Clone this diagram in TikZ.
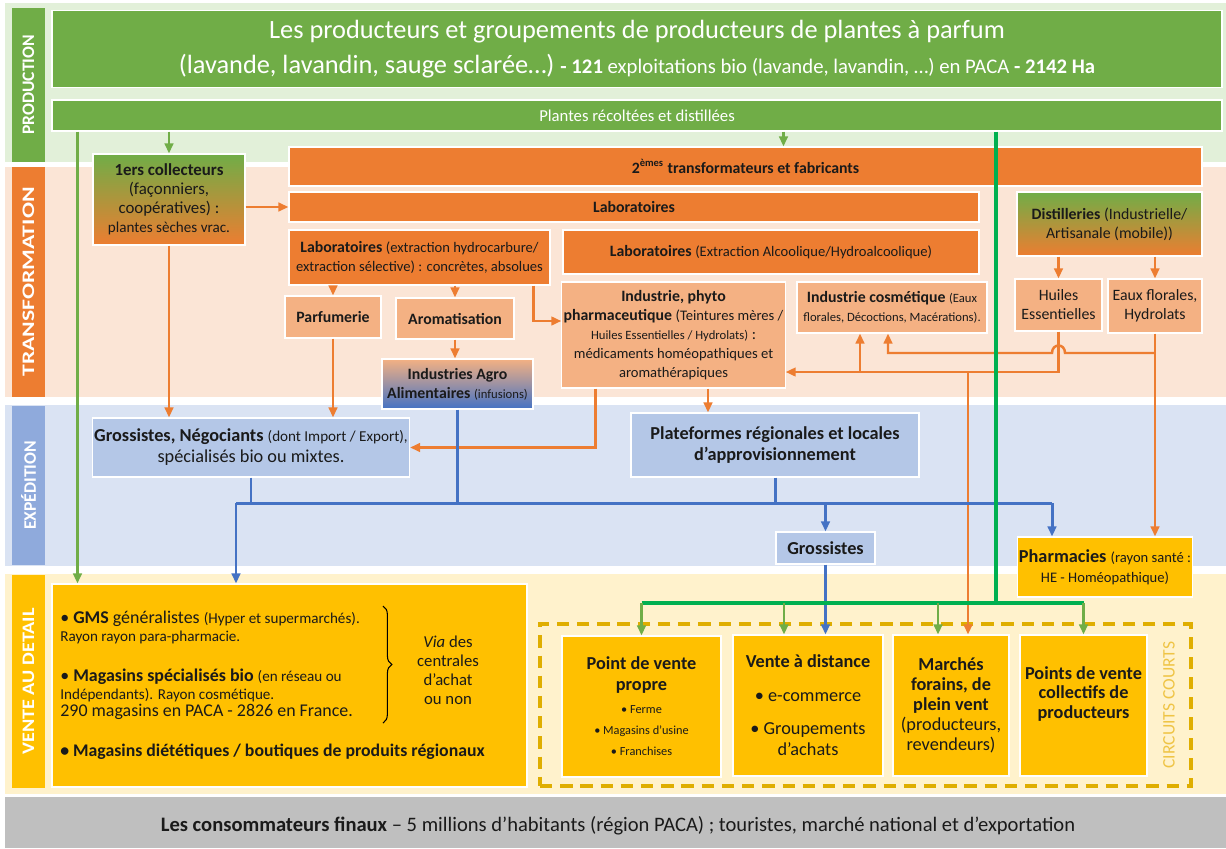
\documentclass[tikz,border=0pt]{standalone}
\usepackage{fontspec}
\setmainfont{Carlito}
\usetikzlibrary{positioning}
\usetikzlibrary{calc}
\usetikzlibrary{arrows.meta}
\usetikzlibrary{decorations.pathreplacing}

\definecolor{cvert}{HTML}{70AD47}
\definecolor{cvertfonce}{HTML}{00B050}
\definecolor{cvertpale}{HTML}{E2F0D9}
\definecolor{corange}{HTML}{ED7D31}
\definecolor{corangeclair}{HTML}{F4B183}
\definecolor{cpeche}{HTML}{FBE5D6}
\definecolor{cbleu}{HTML}{4472C4}
\definecolor{cbleuclair}{HTML}{B4C7E7}
\definecolor{cbleupale}{HTML}{DAE3F3}
\definecolor{cbleubande}{HTML}{8FAADC}
\definecolor{cjaune}{HTML}{FFC000}
\definecolor{cjaunepale}{HTML}{FFF2CC}
\definecolor{cor}{HTML}{DFAE00}
\definecolor{corclair}{HTML}{EFC445}
\definecolor{cgris}{HTML}{BFBFBF}
\definecolor{ctexte}{HTML}{1A1A1A}

\newcommand{\petit}[1]{{\fontsize{8.3}{9}\selectfont #1}}
\newcommand{\mini}[1]{{\fontsize{7.2}{8}\selectfont #1}}

\begin{document}
\begin{tikzpicture}[x=0.2mm, y=-0.2mm,
    sz/.style 2 args={minimum width=#1*0.2mm, minimum height=#2*0.2mm},
    boite/.style={draw=white, line width=0.6pt, inner sep=1pt, align=center,
        text=ctexte, font=\fontsize{9}{10.8}\selectfont},
    vbox/.style={boite, fill=cvert, text=white},
    obox/.style={boite, fill=corange},
    lobox/.style={boite, fill=corangeclair},
    bbox/.style={boite, fill=cbleuclair, font=\fontsize{10.4}{12}\selectfont},
    jbox/.style={boite, fill=cjaune, font=\fontsize{10.4}{12}\selectfont},
    vobox/.style={boite, top color=cvert, bottom color=corange},
    cadre/.style={draw=cor, line width=2.2pt, dash pattern=on 7pt off 4.5pt},
    bande/.style={rotate=90, inner sep=0pt, text=white,
        font=\bfseries\fontsize{10}{12}\selectfont},
    texte/.style={inner sep=0pt, text=ctexte, font=\fontsize{10.2}{10}\selectfont},
    pointe/.style={-{Triangle[length=2mm, width=1.7mm]}},
    vfl/.style={draw=cvert, line width=1.4pt, pointe},
    vfort/.style={draw=cvertfonce, line width=1.8pt},
    ofl/.style={draw=corange, line width=1.4pt, pointe},
    bligne/.style={draw=cbleu, line width=1.7pt},
    bfl/.style={bligne, pointe},
]
\useasboundingbox (0,0) rectangle (1226,848);

% bandes de fond
\fill[cvertpale] (5,3) rectangle (1226,162);
\fill[cpeche] (5,167) rectangle (1226,397);
\fill[cbleupale] (5,405) rectangle (1226,566);
\fill[cjaunepale] (5,574) rectangle (1226,794);
\fill[cgris] (5,797) rectangle (1226,848);

\node[bande, fill=cvert, sz={154}{33}] (prod) at (28.5,85) {PRODUCTION};
\node[bande, fill=corange, sz={230}{33}] (transf) at (28.5,282) {\scalebox{1.35}[1]{TRANSFORMATION}};
\node[bande, fill=cbleubande, sz={159}{33}] (exped) at (28.5,485.5) {EXPÉDITION};
\node[bande, fill=cjaune, sz={213}{33}] (vente) at (28.5,681.5) {\scalebox{1.15}[1]{VENTE AU DETAIL}};

% production
\node[vbox, sz={1170}{77}, font=\fontsize{15}{19.5}\selectfont] (titre) at (637,49)
    {Les producteurs et groupements de producteurs de plantes à parfum\\
     (lavande, lavandin, sauge sclarée…)
     {\fontsize{11.8}{14}\selectfont \textbf{- 121} exploitations bio (lavande, lavandin, …) en PACA \textbf{- 2142 Ha}}};
\node[vbox, sz={1170}{31}, font=\fontsize{9.5}{11}\selectfont] (plantes) at (637,115.5)
    {Plantes récoltées et distillées};

% transformation
\node[vobox, sz={152}{91}, font=\fontsize{9.6}{10.8}\selectfont] (coll) at (169,199.5)
    {\textbf{1ers collecteurs}\\(façonniers,\\coopératives) :\\{\fontsize{8.6}{9}\selectfont plantes sèches vrac.}};
\node[obox, sz={913}{39}] (trans) at (745.5,166.5)
    {\textbf{2\textsuperscript{èmes} transformateurs et fabricants}};
\node[obox, sz={690}{30}] (labo) at (634,207) {\textbf{Laboratoires}};
\node[obox, sz={261}{55}] (labohc) at (419.5,257.5)
    {\textbf{Laboratoires} \petit{(extraction hydrocarbure/}\\\petit{extraction sélective) : concrètes, absolues}};
\node[obox, sz={416}{44}] (laboalc) at (771,252)
    {\textbf{Laboratoires} \petit{(Extraction Alcoolique/Hydroalcoolique)}};
\node[lobox, sz={96}{42}] (parf) at (333,317) {\textbf{Parfumerie}};
\node[lobox, sz={118}{41}] (arom) at (455,318.5) {\textbf{Aromatisation}};
\node[boite, top color=corangeclair, bottom color=cbleu, sz={151}{50}] (agro) at (457.5,384)
    {\textbf{Industries Agro}\\\textbf{Alimentaires} \mini{(infusions)}};
\node[lobox, sz={221}{106}] (phyto) at (673.5,335)
    {\textbf{Industrie, phyto}\\\textbf{pharmaceutique} \petit{(Teintures mères /}\\
     \mini{Huiles Essentielles / Hydrolats)} :\\\petit{médicaments homéopathiques et}\\\petit{aromathérapiques}};
\node[lobox, sz={190}{51}] (cosm) at (892,307.5)
    {\textbf{Industrie cosmétique} \mini{(Eaux}\\\mini{florales, Décoctions, Macérations).}};
\node[vobox, sz={185}{64}] (distil) at (1109.5,224)
    {\textbf{Distilleries} (Industrielle/\\Artisanale (mobile))};
\node[lobox, sz={87}{52}] (huiles) at (1058.5,305) {Huiles\\Essentielles};
\node[lobox, sz={94}{54}] (eaux) at (1155,306) {Eaux florales,\\Hydrolats};

% expedition
\node[bbox, sz={316}{59}] (negoc) at (251,447.5)
    {\textbf{Grossistes, Négociants} {\fontsize{8.6}{9}\selectfont (dont Import / Export),}\\spécialisés bio ou mixtes.};
\node[bbox, sz={288}{64}] (platef) at (775,445)
    {\textbf{Plateformes régionales et locales}\\\textbf{d'approvisionnement}};
\node[bbox, sz={99}{32}] (gross) at (825.5,548) {\textbf{Grossistes}};
\node[jbox, sz={172}{60}, font=\fontsize{10.4}{11.3}\selectfont] (pharma) at (1105,567)
    {\textbf{Pharmacies} \petit{(rayon santé :}\\\petit{HE - Homéopathique)}};

% vente au detail
\node[jbox, sz={475}{203}] (gms) at (289.5,685.5) {};
\node[texte, anchor=west, align=left] (gms1) at (60,627.5)
    {• \textbf{GMS} généralistes {\fontsize{8.6}{9}\selectfont (Hyper et supermarchés).}\\{\fontsize{8.6}{9}\selectfont Rayon rayon para-pharmacie.}};
\node[texte, anchor=west, align=left] (gms2) at (60,694.5)
    {• \textbf{Magasins spécialisés bio} {\fontsize{8.6}{9}\selectfont (en réseau ou}\\{\fontsize{8.6}{9}\selectfont Indépendants). Rayon cosmétique.}\\290 magasins en PACA - 2826 en France.};
\node[texte, anchor=west, font=\bfseries\fontsize{10.1}{11}\selectfont] (gms3) at (60,752)
    {• Magasins diététiques / boutiques de produits régionaux};
\node[texte, align=center, font=\fontsize{9.5}{10.8}\selectfont] (via) at (448,670) {\textit{Via} des\\centrales\\d’achat\\ou non};
\draw[decorate, decoration={brace, amplitude=5pt}, line width=0.6pt] (383,606) -- (383,723);

\node[cadre, sz={651}{162}] (circuits) at (865.5,705) {};
\node[bande, text=corclair, font=\fontsize{10}{11}\selectfont] (cc) at (1169,705) {CIRCUITS COURTS};
\node[jbox, sz={159}{141}] (pvp) at (641.5,706.5)
    {\textbf{Point de vente}\\\textbf{propre}\\[1pt]{\fontsize{7}{8}\selectfont • Ferme}\\{\fontsize{7}{8}\selectfont • Magasins d’usine}\\{\fontsize{7}{8}\selectfont • Franchises}};
\node[jbox, sz={150}{141}] (vad) at (808,705.5)
    {\textbf{Vente à distance}\\[7pt]• e-commerce\\[7pt]• Groupements\\d’achats};
\node[jbox, sz={116}{141}, font=\fontsize{10.4}{11.3}\selectfont] (marches) at (951,705.5)
    {\textbf{Marchés}\\\textbf{forains, de}\\\textbf{plein vent}\\(producteurs,\\revendeurs)};
\node[jbox, sz={127}{141}] (pvc) at (1083.5,705.5) {};
\node[texte, align=center, font=\bfseries\fontsize{10.4}{11.3}\selectfont] (pvct) at (1083.5,694)
    {Points de vente\\collectifs de\\producteurs};

% consommateurs
\node[texte, font=\fontsize{11.7}{13}\selectfont] (conso) at (618,826)
    {\textbf{Les consommateurs finaux} – 5 millions d’habitants (région PACA) ; touristes, marché national et d’exportation};

% fleches orange
\draw[ofl] (coll.east |- labo.west) -- (labo.west);
\draw[ofl] (coll.south) -- (coll.south |- negoc.north);
\draw[ofl] (labohc.south -| parf) -- (parf.north);
\draw[ofl] (labohc.south -| arom) -- (arom.north);
\draw[ofl] ($(labohc.south east)+(-17,0)$) |- ($(phyto.west)+(0,-14)$);
\draw[ofl] (arom.south) -- (arom.south |- agro.north);
\draw[ofl] (parf.south) -- (parf.south |- negoc.north);
\draw[ofl] ($(phyto.south west)+(34,0)$) |- (negoc.east);
\coordinate (op) at (708,0);
\draw[ofl] (phyto.south -| op) -- (platef.north -| op);
\draw[ofl] (distil.south -| huiles) -- (huiles.north);
\draw[ofl] (distil.south -| eaux) -- (eaux.north);
\coordinate (oh) at (1062,372);
\draw[ofl] (huiles.south) -- (huiles.south |- oh) -- (phyto.east |- oh);
\coordinate (oc) at (860,372);
\draw[ofl] (oc) -- (oc |- cosm.south);
\coordinate (om) at (968,372);
\draw[ofl] (om) -- (om |- marches.north);
\draw[ofl] (eaux.south) -- (eaux.south |- pharma.north);
\coordinate (oe) at (1155,353);
\coordinate (oc2) at (888,353);
\draw[ofl] (eaux.south |- oe) -- (1065,353) .. controls (1065,343) and (1052,343) .. (1052,353)
    -- (oc2) -- (oc2 |- cosm.south);

% lignes bleues
\coordinate (bg) at (236,503);
\coordinate (bd) at (1052,503);
\draw[bligne] (negoc.south) -- (negoc.south |- bg);
\draw[bligne] (agro.south) -- (agro.south |- bg);
\draw[bligne] (platef.south) -- (platef.south |- bg);
\draw[bligne] (bg) -- (bd);
\draw[bfl] (bg) -- (bg |- gms.north);
\draw[bfl] (gross.north |- bg) -- (gross.north);
\draw[bfl] (bd) -- (bd |- pharma.north);
\draw[bfl] (gross.south) -- (gross.south |- vad.north);

% fleches vertes
\draw[vfl] ($(plantes.south west)+(26,0)$) -- ($(gms.north west)+(26,0)$);
\draw[vfl] (plantes.south -| coll) -- (coll.north);
\draw[vfl] ($(plantes.south west)+(732,0)$) -- ($(trans.north west)+(495,0)$);
\coordinate (vj) at (996,603);
\draw[vfort] (plantes.south -| vj) -- (vj);
\draw[vfort] (pvp.north |- vj) -- (pvc.north |- vj);
\draw[vfl] (pvp.north |- vj) -- (pvp.north);
\coordinate (vd) at (784,603);
\draw[vfl] (vd) -- (vd |- vad.north);
\coordinate (vm) at (938,603);
\draw[vfl] (vm) -- (vm |- marches.north);
\draw[vfl] (pvc.north |- vj) -- (pvc.north);
\end{tikzpicture}
\end{document}
